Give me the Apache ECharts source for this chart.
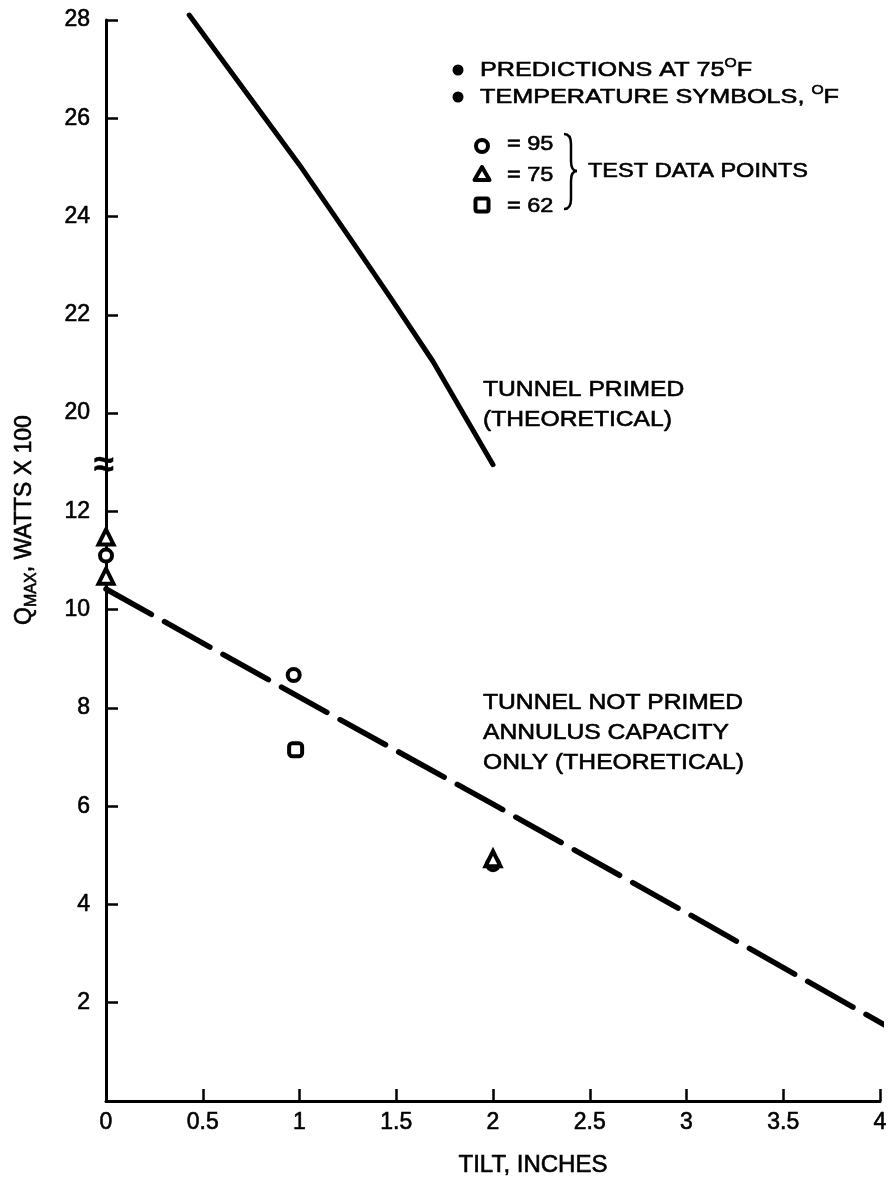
<!DOCTYPE html>
<html>
<head>
<meta charset="utf-8">
<script src="https://cdn.jsdelivr.net/npm/echarts@6/dist/echarts.min.js"></script>
<style>html,body{margin:0;padding:0;background:#fff}#c{width:894px;height:1192px}</style>
</head>
<body>
<div id="c"></div>
<script>
// ---- data ----
const xTickLabels = ['0', '0.5', '1', '1.5', '2', '2.5', '3', '3.5', '4'];
const yTickLabels = ['', '2', '4', '6', '8', '10', '12', '20', '22', '24', '26', '28'];

// Tunnel primed (theoretical), Q in watts x 100
const primedX = [0.43, 1.0, 1.28, 1.47, 1.69, 2.0];
const primedY = [28.1, 25.05, 23.45, 22.35, 21.05, 18.95];

// Tunnel not primed, annulus capacity only (theoretical)
const notPrimedX = [0, 1, 2, 3, 4.05];
const notPrimedY = [10.42, 8.22, 6.04, 3.83, 1.49];

// Test data points
const t95X = [0, 0.97, 2.0];
const t95Y = [11.1, 8.67, 4.82];
const t75X = [0, 0, 2.0];
const t75Y = [11.48, 10.68, 4.93];
const t62X = [0.98];
const t62Y = [7.15];

// broken axis: 12 -> 20 gap removed (values above the break are shifted down by 6)
const BREAK_SHIFT = 6;
function disp(v) { return v >= 18 ? v - BREAK_SHIFT : v; }
function pairs(xs, ys) { return xs.map((x, i) => [x, disp(ys[i])]); }

const FONT = '"Liberation Sans", Arial, Helvetica, sans-serif';
const chart = echarts.init(document.getElementById('c'), null, { renderer: 'canvas' });

const txt = (extra) => Object.assign({ fill: '#000', fontFamily: FONT, fontSize: 22, stroke: '#000', lineWidth: 0.6 }, extra);
const rt = (size, lh, va) => ({ fontFamily: FONT, fontSize: size, lineHeight: lh, verticalAlign: va, fill: '#000', stroke: '#000', lineWidth: 0.6 });
const symStyle = { color: '#fff', borderColor: '#000', borderWidth: 4, opacity: 1 };

const option = {
  backgroundColor: '#fff',
  animation: false,
  grid: { left: 106, right: 14, top: 20, bottom: 91 },
  xAxis: {
    type: 'value', min: 0, max: 4, interval: 0.5,
    axisLine: { show: true, onZero: false, lineStyle: { color: '#000', width: 3 } },
    axisTick: { show: true, inside: true, length: 12, lineStyle: { color: '#000', width: 2.5 } },
    axisLabel: { color: '#000', fontSize: 23, fontFamily: FONT, margin: 10, showMinLabel: true, showMaxLabel: true,
      textBorderColor: '#000', textBorderWidth: 0.6,
      formatter: v => xTickLabels[Math.round(v * 2)] },
    splitLine: { show: false }
  },
  yAxis: {
    type: 'value', min: 0, max: 22, interval: 2,
    axisLine: { show: true, onZero: false, lineStyle: { color: '#000', width: 3 } },
    axisTick: { show: true, inside: true, length: 12, lineStyle: { color: '#000', width: 2.5 } },
    axisLabel: { color: '#000', fontSize: 23, fontFamily: FONT, margin: 16,
      textBorderColor: '#000', textBorderWidth: 0.6,
      formatter: v => yTickLabels[Math.round(v / 2)] },
    splitLine: { show: false }
  },
  series: [
    { type: 'line', data: pairs(primedX, primedY), symbol: 'none', clip: false, z: 3,
      lineStyle: { color: '#000', width: 5, cap: 'round', join: 'round' } },
    { type: 'line', data: pairs(notPrimedX, notPrimedY), symbol: 'none', clip: false, z: 3,
      lineStyle: { color: '#000', width: 5.5, type: [52, 15], cap: 'round', join: 'round' } },
    { type: 'scatter', data: pairs(t95X, t95Y), symbol: 'circle', symbolSize: 12, clip: false, z: 4,
      itemStyle: symStyle },
    { type: 'scatter', data: pairs(t75X, t75Y), symbol: 'triangle', symbolSize: 15, clip: false, z: 5,
      itemStyle: symStyle },
    { type: 'scatter', data: pairs(t62X, t62Y), symbol: 'roundRect', symbolSize: 13, clip: false, z: 4,
      itemStyle: symStyle }
  ],
  graphic: [
    // axis break mark
    { type: 'text', x: 104, y: 466, z: 10,
      style: txt({ text: '≈', fontSize: 36, fontWeight: 'bold', align: 'center', verticalAlign: 'middle' }) },
    // y axis title
    { type: 'text', x: 25, y: 520, rotation: Math.PI / 2,
      style: {
        text: '{q|Q}{s|MAX}{n|, WATTS X 100}', align: 'center', verticalAlign: 'middle',
        rich: { q: rt(23, 30, 'middle'), s: rt(16, 16, 'bottom'), n: rt(23, 30, 'middle') }
      } },
    // x axis title
    { type: 'text', x: 533, y: 1165,
      style: txt({ text: 'TILT, INCHES', fontSize: 24, align: 'center', verticalAlign: 'middle' }) },
    // curve annotations
    { type: 'text', x: 483, y: 375, scaleX: 1.12,
      style: txt({ text: 'TUNNEL PRIMED\n(THEORETICAL)', lineHeight: 30, align: 'left', verticalAlign: 'top' }) },
    { type: 'text', x: 483, y: 688, scaleX: 1.12,
      style: txt({ text: 'TUNNEL NOT PRIMED\nANNULUS CAPACITY\nONLY (THEORETICAL)', lineHeight: 30, align: 'left', verticalAlign: 'top' }) },
    // legend block
    { type: 'circle', shape: { cx: 458, cy: 70, r: 5.5 }, style: { fill: '#000' } },
    { type: 'circle', shape: { cx: 458, cy: 97, r: 5.5 }, style: { fill: '#000' } },
    { type: 'text', x: 480, y: 70, scaleX: 1.2,
      style: {
        text: '{t|PREDICTIONS AT 75}{s|O}{t|F}', align: 'left', verticalAlign: 'middle',
        rich: { t: rt(21, 26, 'middle'), s: rt(13, 13, 'top') }
      } },
    { type: 'text', x: 480, y: 97, scaleX: 1.2,
      style: {
        text: '{t|TEMPERATURE SYMBOLS, }{s|O}{t|F}', align: 'left', verticalAlign: 'middle',
        rich: { t: rt(21, 26, 'middle'), s: rt(13, 13, 'top') }
      } },
    { type: 'circle', shape: { cx: 482, cy: 146, r: 6 }, style: { fill: '#fff', stroke: '#000', lineWidth: 4 } },
    { type: 'polygon', shape: { points: [[482, 167], [489.5, 180], [474.5, 180]] }, style: { fill: '#fff', stroke: '#000', lineWidth: 4, lineJoin: 'round' } },
    { type: 'rect', shape: { x: 475.5, y: 198.5, width: 13, height: 13, r: 2 }, style: { fill: '#fff', stroke: '#000', lineWidth: 4 } },
    { type: 'text', x: 507, y: 144, scaleX: 1.12, style: txt({ text: '= 95', fontSize: 21, align: 'left', verticalAlign: 'middle' }) },
    { type: 'text', x: 507, y: 175, scaleX: 1.12, style: txt({ text: '= 75', fontSize: 21, align: 'left', verticalAlign: 'middle' }) },
    { type: 'text', x: 507, y: 206, scaleX: 1.12, style: txt({ text: '= 62', fontSize: 21, align: 'left', verticalAlign: 'middle' }) },
    // brace
    { type: 'bezierCurve', shape: { x1: 564, y1: 134, cpx1: 571, cpy1: 134, x2: 571, y2: 144 }, style: { stroke: '#000', lineWidth: 2.5, fill: null } },
    { type: 'line', shape: { x1: 571, y1: 144, x2: 571, y2: 161 }, style: { stroke: '#000', lineWidth: 2.5 } },
    { type: 'bezierCurve', shape: { x1: 571, y1: 161, cpx1: 571, cpy1: 171, x2: 577, y2: 171 }, style: { stroke: '#000', lineWidth: 2.5, fill: null } },
    { type: 'bezierCurve', shape: { x1: 577, y1: 171, cpx1: 571, cpy1: 171, x2: 571, y2: 181 }, style: { stroke: '#000', lineWidth: 2.5, fill: null } },
    { type: 'line', shape: { x1: 571, y1: 181, x2: 571, y2: 199 }, style: { stroke: '#000', lineWidth: 2.5 } },
    { type: 'bezierCurve', shape: { x1: 571, y1: 199, cpx1: 571, cpy1: 209, x2: 564, y2: 209 }, style: { stroke: '#000', lineWidth: 2.5, fill: null } },
    { type: 'text', x: 588, y: 171, scaleX: 1.12, style: txt({ text: 'TEST DATA POINTS', fontSize: 21, align: 'left', verticalAlign: 'middle' }) }
  ]
};
chart.setOption(option);
</script>
</body>
</html>
